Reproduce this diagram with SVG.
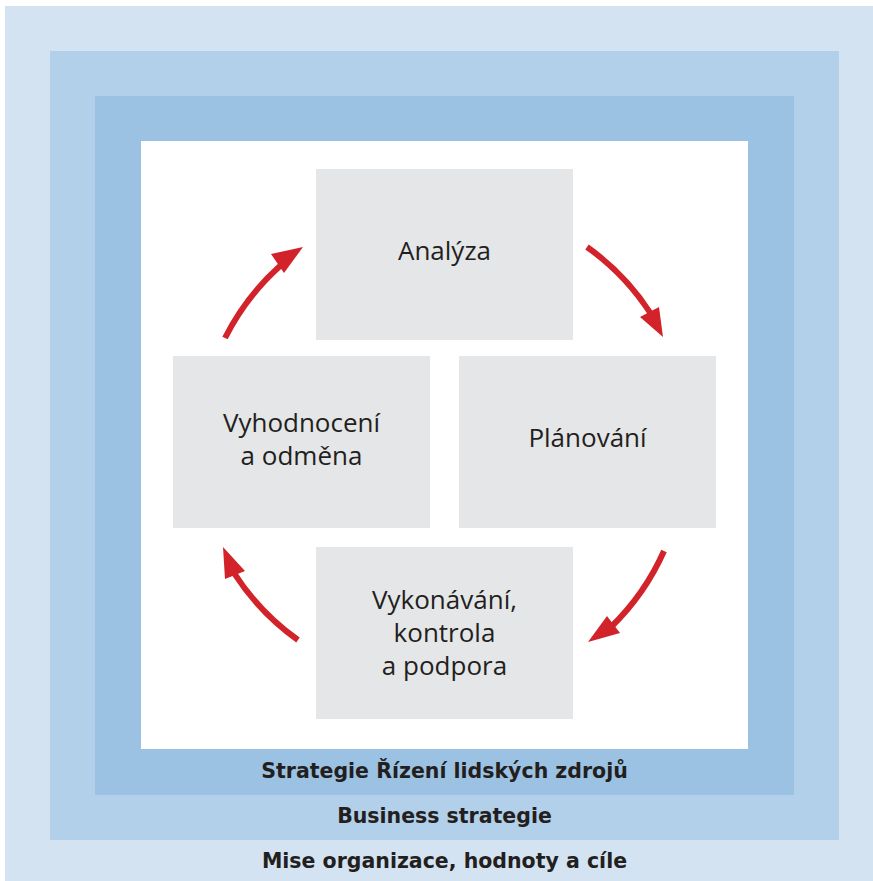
<svg xmlns="http://www.w3.org/2000/svg" width="873" height="881" viewBox="0 0 873 881">
  <style>
    .band1 { fill: #d3e3f2; }
    .band2 { fill: #b2d0e9; }
    .band3 { fill: #9cc2e3; }
    .core { fill: #ffffff; }
    .box { fill: #e5e6e8; }
    .label { font-family: "Open Sans", "DejaVu Sans", sans-serif; font-size: 26px; fill: #231f20; text-anchor: middle; }
    .band-label { font-family: "DejaVu Sans", "Liberation Sans", sans-serif; font-weight: bold; font-size: 20.5px; fill: #231f20; text-anchor: middle; }
    .shaft { fill: none; stroke: #d2232a; stroke-width: 6; stroke-linecap: butt; }
    .head { fill: #d2232a; }
  </style>

  <!-- nested strategy layers -->
  <g id="layers">
    <rect class="band1" x="5" y="6" width="868" height="875"/>
    <rect class="band2" x="50" y="51" width="789" height="789"/>
    <rect class="band3" x="95" y="96" width="699" height="699"/>
    <rect class="core" x="141" y="141" width="607" height="608"/>
    <text class="band-label" x="444.5" y="778">Strategie Řízení lidských zdrojů</text>
    <text class="band-label" x="444.5" y="823">Business strategie</text>
    <text class="band-label" x="444.5" y="868">Mise organizace, hodnoty a cíle</text>
  </g>

  <!-- cycle steps -->
  <g id="analyza">
    <rect class="box" x="316" y="169" width="257" height="171"/>
    <text class="label" x="444.5" y="260">Analýza</text>
  </g>
  <g id="planovani">
    <rect class="box" x="459" y="356" width="257" height="172"/>
    <text class="label" x="587.5" y="447">Plánování</text>
  </g>
  <g id="vykonavani">
    <rect class="box" x="316" y="547" width="257" height="172"/>
    <text class="label" x="444.5" y="609">Vykonávání,</text>
    <text class="label" x="444.5" y="642">kontrola</text>
    <text class="label" x="444.5" y="675">a podpora</text>
  </g>
  <g id="vyhodnoceni">
    <rect class="box" x="173" y="356" width="257" height="172"/>
    <text class="label" x="301.5" y="432">Vyhodnocení</text>
    <text class="label" x="301.5" y="465">a odměna</text>
  </g>

  <!-- clockwise arrows between the steps -->
  <g id="connectors">
    <path class="shaft" d="M225,338 A244,244 0 0 1 280,266"/>
    <polygon class="head" points="303,247 271,254 284,273"/>

    <path class="shaft" d="M587,247 A244,244 0 0 1 651,314"/>
    <polygon class="head" points="663,337 640,317 659,307"/>

    <path class="shaft" d="M664,551 A244,244 0 0 1 611,627"/>
    <polygon class="head" points="588,642 607,616 620,633"/>

    <path class="shaft" d="M298,640 A244,244 0 0 1 234,573"/>
    <polygon class="head" points="223,547 225,579 245,571"/>
  </g>
</svg>
